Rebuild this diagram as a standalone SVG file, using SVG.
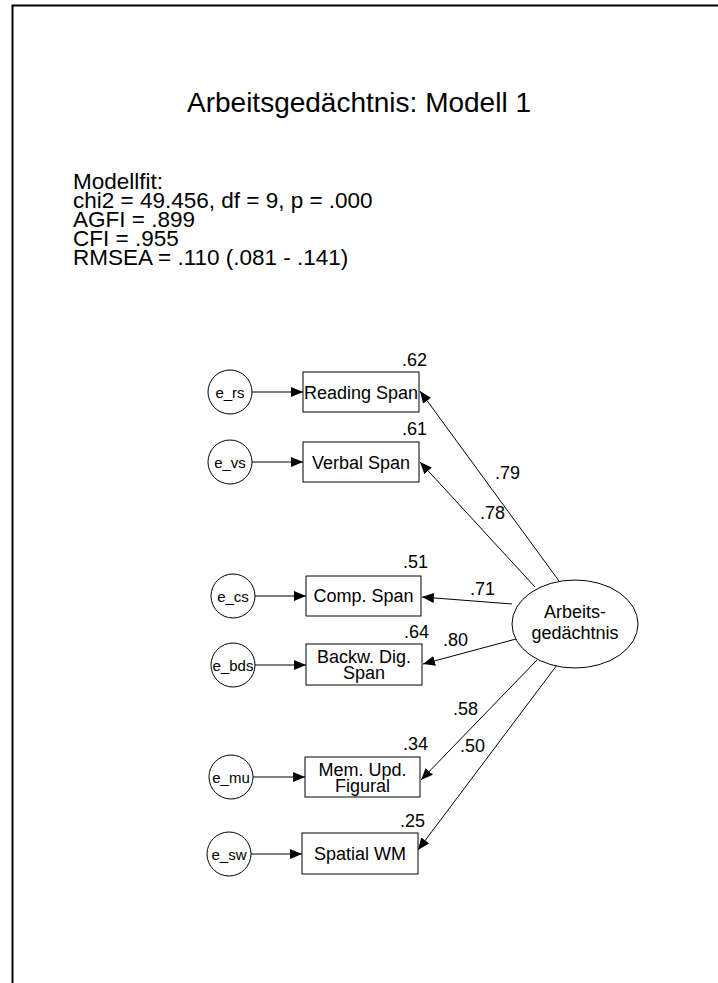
<svg xmlns="http://www.w3.org/2000/svg" width="718" height="983" viewBox="0 0 718 983">
<defs>
<style>
text{font-family:"Liberation Sans",Arial,sans-serif;fill:#000}
.title{font-size:28px;text-anchor:middle}
.fit{font-size:22.5px}
.lbl{font-size:18px;text-anchor:middle}
.err{font-size:15px;text-anchor:middle}
.val{font-size:18px}
.r{text-anchor:end}
.box{fill:#fff;stroke:#000;stroke-width:1}
.node{fill:#fff;stroke:#000;stroke-width:1}
.con{fill:none;stroke:#000;stroke-width:1;marker-end:url(#ah)}
</style>
<marker id="ah" viewBox="0 0 12 10" refX="12" refY="5" markerWidth="12" markerHeight="10" markerUnits="userSpaceOnUse" orient="auto">
<path d="M0,0 L12,5 L0,10 z" fill="#000"/>
</marker>
</defs>
<rect width="718" height="983" fill="#fff"/>
<path d="M12.5,983 V5.5 H718" fill="none" stroke="#000" stroke-width="2"/>
<text class="title" x="359" y="112">Arbeitsgedächtnis: Modell 1</text>
<g id="modellfit">
<text class="fit" x="73" y="189">Modellfit:</text>
<text class="fit" x="73" y="208">chi2 = 49.456, df = 9, p = .000</text>
<text class="fit" x="73" y="227">AGFI = .899</text>
<text class="fit" x="73" y="246">CFI = .955</text>
<text class="fit" x="73" y="265">RMSEA = .110 (.081 - .141)</text>
</g>
<g id="connectors">
<line class="con" x1="252" y1="392" x2="303" y2="392"/>
<line class="con" x1="252" y1="462" x2="303" y2="462"/>
<line class="con" x1="255" y1="596" x2="306" y2="596"/>
<line class="con" x1="255" y1="665" x2="306" y2="665"/>
<line class="con" x1="253" y1="777" x2="305" y2="777"/>
<line class="con" x1="251" y1="854" x2="302" y2="854"/>
<line class="con" x1="559" y1="581" x2="420" y2="391"/>
<line class="con" x1="535" y1="587" x2="420" y2="462"/>
<line class="con" x1="512" y1="604" x2="422" y2="597"/>
<line class="con" x1="516" y1="639" x2="423" y2="664"/>
<line class="con" x1="537" y1="660" x2="421" y2="780"/>
<line class="con" x1="557" y1="665" x2="418" y2="850"/>
</g>
<g id="coef">
<text class="val" x="495" y="479">.79</text>
<text class="val" x="480" y="519">.78</text>
<text class="val" x="470" y="595">.71</text>
<text class="val" x="443" y="646">.80</text>
<text class="val" x="453" y="715">.58</text>
<text class="val" x="460" y="752">.50</text>
</g>
<g id="e_rs"><circle class="node" cx="230" cy="392" r="22"/><text class="err" x="230" y="398">e_rs</text></g>
<g id="e_vs"><circle class="node" cx="230" cy="462" r="22"/><text class="err" x="230" y="468">e_vs</text></g>
<g id="e_cs"><circle class="node" cx="233" cy="596" r="22"/><text class="err" x="233" y="602">e_cs</text></g>
<g id="e_bds"><circle class="node" cx="233" cy="665" r="22"/><text class="err" x="233" y="671">e_bds</text></g>
<g id="e_mu"><circle class="node" cx="231" cy="777" r="22"/><text class="err" x="231" y="783">e_mu</text></g>
<g id="e_sw"><circle class="node" cx="229" cy="854" r="22"/><text class="err" x="229" y="860">e_sw</text></g>
<g id="reading_span"><rect class="box" x="303" y="372" width="116" height="40"/><text class="lbl" x="361" y="399">Reading Span</text><text class="val r" x="427" y="366">.62</text></g>
<g id="verbal_span"><rect class="box" x="303" y="442" width="116" height="40"/><text class="lbl" x="361" y="469">Verbal Span</text><text class="val r" x="427" y="435">.61</text></g>
<g id="comp_span"><rect class="box" x="306" y="576" width="115" height="40"/><text class="lbl" x="363.5" y="602">Comp. Span</text><text class="val r" x="428" y="568">.51</text></g>
<g id="backw_dig_span"><rect class="box" x="306" y="644" width="116" height="41"/><text class="lbl" x="364" y="663">Backw. Dig.</text><text class="lbl" x="364" y="679">Span</text><text class="val r" x="429" y="638">.64</text></g>
<g id="mem_upd_figural"><rect class="box" x="305" y="757" width="115" height="40"/><text class="lbl" x="362.5" y="776">Mem. Upd.</text><text class="lbl" x="362.5" y="792">Figural</text><text class="val r" x="428" y="750">.34</text></g>
<g id="spatial_wm"><rect class="box" x="302" y="833" width="116" height="41"/><text class="lbl" x="360" y="860">Spatial WM</text><text class="val r" x="425" y="827">.25</text></g>
<g id="arbeitsgedaechtnis"><ellipse class="node" cx="575" cy="624" rx="63" ry="44"/><text class="lbl" x="575" y="618">Arbeits-</text><text class="lbl" x="575" y="639">gedächtnis</text></g>
</svg>
